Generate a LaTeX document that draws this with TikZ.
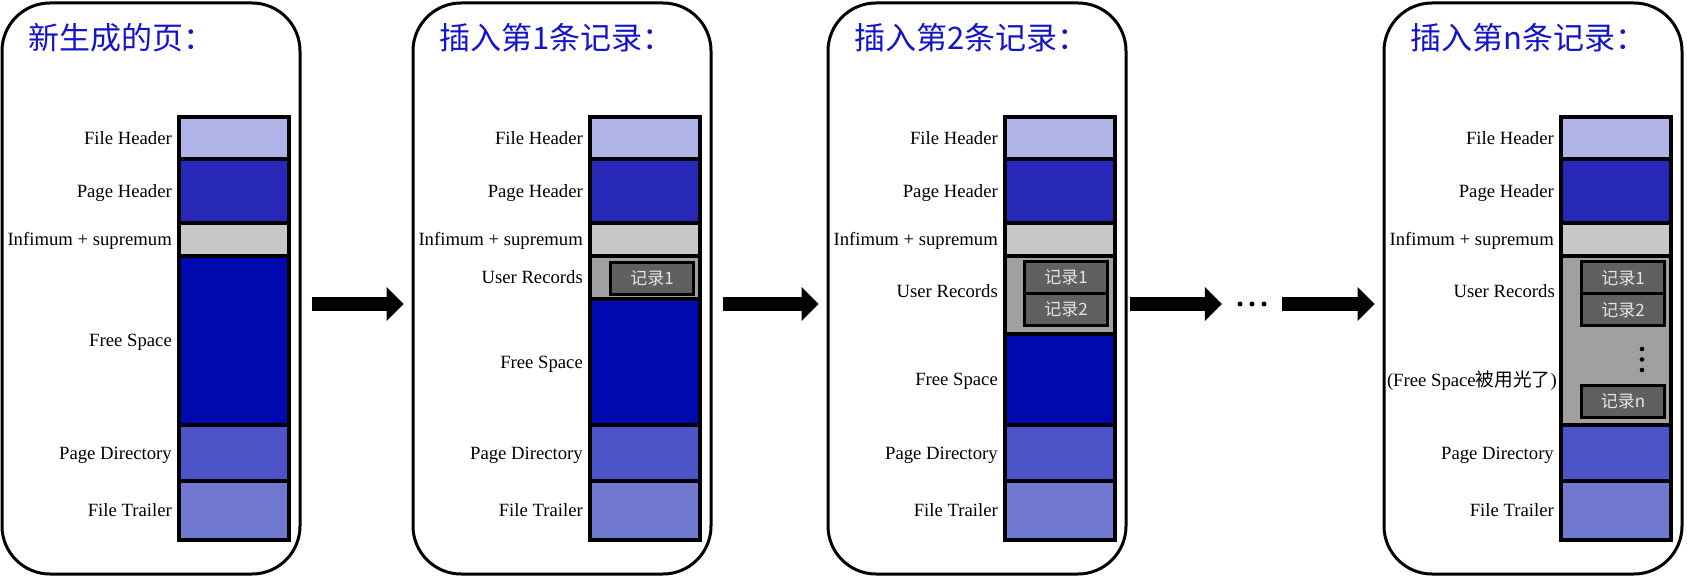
\documentclass[tikz,border=0pt]{standalone}
\usepackage{fontspec}
\setmainfont{Liberation Serif}
\newfontfamily\cjk{Noto Sans CJK SC}
\usetikzlibrary{positioning,arrows.meta}

\definecolor{fhcol}{RGB}{176,180,232}
\definecolor{phcol}{RGB}{40,40,184}
\definecolor{infcol}{RGB}{200,200,200}
\definecolor{freecol}{RGB}{0,8,176}
\definecolor{pdcol}{RGB}{76,84,200}
\definecolor{ftcol}{RGB}{112,120,208}
\definecolor{usercol}{RGB}{160,160,160}
\definecolor{reccol}{RGB}{96,96,96}
\definecolor{ttlblue}{RGB}{20,20,200}

\begin{document}
\begin{tikzpicture}
[x=1pt,y=-1pt,%
  page/.style={draw,line width=3pt,rounded corners=48pt,minimum width=298pt,
    minimum height=571pt,inner sep=0pt},
  seg/.style={draw,line width=3.5pt,minimum width=110pt,inner sep=0pt,outer sep=0pt},
  lbl/.style={inner sep=0pt,text height=12.4pt,text depth=0pt,
    font=\fontsize{18.7}{22}\selectfont},
  rec/.style={draw,line width=3pt,fill=reccol,text=white!90!black,minimum width=83pt,
    minimum height=32pt,inner sep=0pt,outer sep=0pt,font=\cjk\fontsize{17}{20}\selectfont},
  ttl/.style={anchor=west,inner sep=0pt,text=ttlblue,font=\cjk\fontsize{31}{36}\selectfont},
  bigarrow/.style={line width=14pt,-{Triangle[length=17pt,width=34pt,line width=0pt]}}]
\useasboundingbox (0,0) rectangle (1687,577);

% the four pages, with the parts that never change
\foreach \i/\px/\ttltext in {1/2/新生成的页：,2/413/插入第1条记录：,
    3/828/插入第2条记录：,4/1384/插入第n条记录：} {
  \node[page] (p\i) at (\px+149,288.5) {};
  \node[ttl] (t\i) at (\px+26,38) {\ttltext};
  \node[seg,fill=fhcol,minimum height=42pt] (fh\i) at (\px+232,138) {};
  \node[seg,fill=phcol,minimum height=64pt] (ph\i) at (\px+232,191) {};
  \node[seg,fill=infcol,minimum height=33pt] (inf\i) at (\px+232,239.5) {};
  \node[seg,fill=pdcol,minimum height=56pt] (pd\i) at (\px+232,453) {};
  \node[seg,fill=ftcol,minimum height=59pt] (ft\i) at (\px+232,510.5) {};
  \node[lbl,left=7pt of fh\i] (lfh\i) {File Header};
  \node[lbl,left=7pt of ph\i] (lph\i) {Page Header};
  \node[lbl,left=7pt of inf\i] (linf\i) {Infimum + supremum};
  \node[lbl,left=7pt of pd\i] (lpd\i) {Page Directory};
  \node[lbl,left=7pt of ft\i] (lft\i) {File Trailer};
}

% page 1
\node[seg,fill=freecol,minimum height=169pt] (free1) at (234,340.5) {};
\node[lbl,left=7pt of free1] (lfree1) {Free Space};

% page 2
\node[seg,fill=usercol,minimum height=43pt] (user2) at (645,277.5) {};
\node[seg,fill=freecol,minimum height=126pt] (free2) at (645,362) {};
\node[rec] (r21) at (652,278.5) {记录1};
\node[lbl,left=7pt of user2] (luser2) {User Records};
\node[lbl,left=7pt of free2] (lfree2) {Free Space};

% page 3
\node[seg,fill=usercol,minimum height=78pt] (user3) at (1060,295) {};
\node[seg,fill=freecol,minimum height=91pt] (free3) at (1060,379.5) {};
\node[rec] (r31) at (1066,277.5) {记录1};
\node[rec,below=0pt of r31] (r32) {记录2};
\node[lbl,left=7pt of user3,yshift=4pt] (luser3) {User Records};
\node[lbl,left=7pt of free3] (lfree3) {Free Space};

% page 4
\node[seg,fill=usercol,minimum height=169pt] (user4) at (1616,340.5) {};
\node[rec] (r41) at (1623,278) {记录1};
\node[rec,below=0pt of r41] (r42) {记录2};
\node[rec] (r4n) at (1623,401.5) {记录n};
\foreach \y in {349,359.5,370}
  \fill (1642,\y) circle (2.3pt);
\node[lbl,anchor=east] (luser4) at (1555,291) {User Records};
\node[lbl,anchor=east] (lfree4) at (1557,380) {(Free Space{\cjk 被用光了})};

% arrows between the pages
\node[inner sep=0pt,minimum width=30pt,minimum height=6pt] (dots) at (1252,304) {};
\foreach \x in {1240,1252,1264}
  \fill (\x,304) circle (2.5pt);
\draw[bigarrow] ([xshift=10pt,yshift=-15.5pt]p1.east) -- ([xshift=-8pt,yshift=-15.5pt]p2.west);
\draw[bigarrow] ([xshift=10pt,yshift=-15.5pt]p2.east) -- ([xshift=-8pt,yshift=-15.5pt]p3.west);
\draw[bigarrow] ([xshift=2pt,yshift=-15.5pt]p3.east) -- ([xshift=-15pt]dots.west);
\draw[bigarrow] ([xshift=15pt]dots.east) -- ([xshift=-8pt,yshift=-15.5pt]p4.west);
\end{tikzpicture}
\end{document}
